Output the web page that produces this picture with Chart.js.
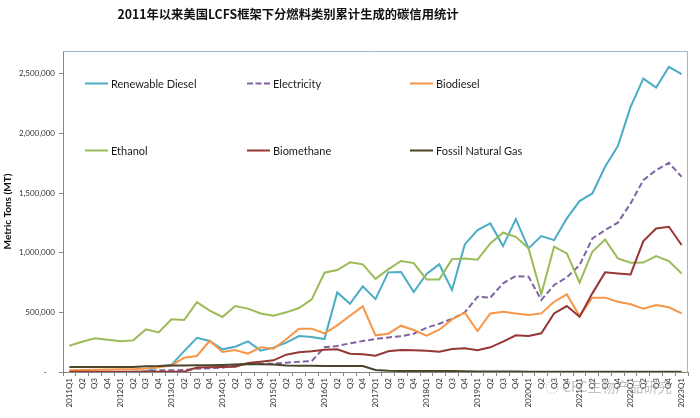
<!DOCTYPE html>
<html lang="zh-CN">

<head>
    <meta charset="UTF-8">
    <title>LCFS 碳信用统计</title>
    <script src="https://cdn.jsdelivr.net/npm/chart.js@4.4.0/dist/chart.umd.min.js"></script>

    <style>
        html, body { margin: 0; padding: 0; background: #fff; }
        #wrap { position: relative; width: 700px; height: 418px; }
        #title {
            position: absolute; top: 5px; left: 0; width: 576px; text-align: center;
            font-family: "Noto Sans CJK SC", sans-serif; font-weight: bold; font-size: 12.3px; color: #111;
        }
        .leg {
            position: absolute; display: flex; align-items: center; white-space: nowrap;
            font-family: Lato, "Open Sans", sans-serif; font-size: 11px; color: #1a1a1a;
            transform: translateY(-50%);
        }
        .leg i { display: inline-block; width: 23px; margin-right: 3px; border-top: 2px solid; }
        #mark {
            position: absolute; left: 545px; top: 376px;
            font-family: "Noto Sans CJK SC", sans-serif; font-size: 14px; color: rgba(140, 140, 140, 0.55);
        }
    </style>
</head>

<body>
    <div id="wrap">
        <canvas id="lcfs" width="700" height="418"></canvas>
        <div id="title">2011年以来美国LCFS框架下分燃料类别累计生成的碳信用统计</div>
        <div id="legend"></div>
        <div id="mark">◌ CFC生物产品研究</div>
    </div>

    <script>
        // Trimestres
        const quarters = [
            '2011Q1', 'Q2', 'Q3', 'Q4', '2012Q1', 'Q2', 'Q3', 'Q4',
            '2013Q1', 'Q2', 'Q3', 'Q4', '2014Q1', 'Q2', 'Q3', 'Q4',
            '2015Q1', 'Q2', 'Q3', 'Q4', '2016Q1', 'Q2', 'Q3', 'Q4',
            '2017Q1', 'Q2', 'Q3', 'Q4', '2018Q1', 'Q2', 'Q3', 'Q4',
            '2019Q1', 'Q2', 'Q3', 'Q4', '2020Q1', 'Q2', 'Q3', 'Q4',
            '2021Q1', 'Q2', 'Q3', 'Q4', '2022Q1', 'Q2', 'Q3', 'Q4',
            '2023Q1'
        ];

        // Crédits par type de carburant (MT)
        const renewableDiesel = [
            0, 0, 0, 0, 0, 0, 5000, 45000,
            60000, 175000, 287000, 260000, 190000, 212000, 257000, 179000,
            204000, 246000, 301000, 293000, 276000, 667000, 572000, 718000,
            611000, 835000, 838000, 670000, 821000, 902000, 687000, 1069000,
            1189000, 1245000, 1055000, 1281000, 1036000, 1139000, 1105000, 1287000,
            1432000, 1496000, 1720000, 1893000, 2222000, 2459000, 2384000, 2557000,
            2496000
        ];
        const electricity = [
            0, 0, 0, 0, 0, 0, 5000, 14000,
            15000, 16000, 28000, 32000, 36000, 60000, 65000, 68000,
            70000, 78000, 86000, 92000, 207000, 218000, 240000, 260000,
            276000, 290000, 299000, 321000, 371000, 404000, 446000, 500000,
            631000, 623000, 743000, 804000, 798000, 603000, 729000, 793000,
            896000, 1119000, 1189000, 1251000, 1413000, 1608000, 1692000, 1753000,
            1636000
        ];
        const biodiesel = [
            15000, 17000, 19000, 21000, 22000, 24000, 30000, 40000,
            55000, 120000, 134000, 262000, 168000, 184000, 153000, 207000,
            195000, 274000, 363000, 363000, 324000, 391000, 472000, 550000,
            307000, 321000, 388000, 352000, 304000, 354000, 441000, 497000,
            343000, 491000, 505000, 491000, 477000, 491000, 589000, 650000,
            469000, 623000, 623000, 589000, 567000, 530000, 561000, 542000,
            491000
        ];
        const ethanol = [
            220000, 254000, 282000, 271000, 257000, 265000, 357000, 332000,
            441000, 435000, 586000, 514000, 461000, 553000, 531000, 491000,
            472000, 500000, 536000, 609000, 832000, 854000, 919000, 902000,
            781000, 860000, 930000, 913000, 776000, 776000, 946000, 952000,
            941000, 1078000, 1167000, 1133000, 1036000, 653000, 1050000, 994000,
            748000, 1008000, 1111000, 952000, 916000, 917000, 972000, 930000,
            826000
        ];
        const biomethane = [
            3000, 3000, 3000, 3000, 3000, 3000, 3000, 3000,
            3000, 3000, 38000, 40000, 42000, 45000, 76000, 86000,
            98000, 145000, 165000, 173000, 187000, 190000, 153000, 148000,
            137000, 173000, 184000, 182000, 179000, 170000, 193000, 198000,
            182000, 207000, 254000, 307000, 301000, 324000, 491000, 553000,
            463000, 659000, 835000, 826000, 818000, 1097000, 1203000, 1217000,
            1064000
        ];
        const fossilGas = [
            42000, 42000, 42000, 42000, 42000, 42000, 48000, 50000,
            55000, 55000, 56000, 56000, 58000, 62000, 66000, 65000,
            63000, 55000, 52000, 52000, 51000, 50000, 50000, 50000,
            17000, 10000, 9000, 9000, 9000, 8000, 8000, 7000,
            5000, 5000, 4000, 4000, 3000, 2000, 2000, 2000,
            2000, 2000, 2000, 2000, 2000, 2000, 2000, 2000,
            2000
        ];

        const yTicks = [0, 500000, 1000000, 1500000, 2000000, 2500000];

        // Séries : nom, données, couleur, tirets
        const series = [
            { label: 'Renewable Diesel', data: renewableDiesel, color: '#4BACC6', dash: [] },
            { label: 'Electricity', data: electricity, color: '#8064A2', dash: [6, 3] },
            { label: 'Biodiesel', data: biodiesel, color: '#F79646', dash: [] },
            { label: 'Ethanol', data: ethanol, color: '#9BBB59', dash: [] },
            { label: 'Biomethane', data: biomethane, color: '#953735', dash: [] },
            { label: 'Fossil Natural Gas', data: fossilGas, color: '#4A452A', dash: [] }
        ];

        // Légende HTML (3 colonnes x 2 lignes, dans la zone du graphe)
        const legX = [85, 247, 410];
        const legY = [83, 150];
        const legend = document.getElementById('legend');
        series.forEach((s, i) => {
            const el = document.createElement('div');
            el.className = 'leg';
            el.style.left = legX[i % 3] + 'px';
            el.style.top = legY[Math.floor(i / 3)] + 'px';
            const style = s.dash.length ? 'dashed' : 'solid';
            el.innerHTML = '<i style="border-top:2px ' + style + ' ' + s.color + '"></i>' + s.label;
            legend.appendChild(el);
        });

        // Cadre haut / droite du graphe
        const frame = {
            id: 'frame',
            beforeDatasetsDraw(chart) {
                const a = chart.chartArea;
                const c = chart.ctx;
                c.save();
                c.strokeStyle = '#9DB7D5';
                c.lineWidth = 1;
                c.beginPath();
                c.moveTo(a.left, a.top + 0.5);
                c.lineTo(a.right - 0.5, a.top + 0.5);
                c.lineTo(a.right - 0.5, a.bottom);
                c.stroke();
                c.restore();
            }
        };

        const tickFont = { family: 'Lato, "Open Sans", sans-serif', size: 8 };

        const ctx = document.getElementById('lcfs');
        const graph = new Chart(ctx, {
            type: 'line',
            data: {
                labels: quarters,
                datasets: series.map((s, i) => ({
                    label: s.label,
                    data: s.data,
                    borderColor: s.color,
                    backgroundColor: s.color,
                    borderDash: s.dash,
                    borderWidth: 2,
                    pointRadius: 0,
                    tension: 0,
                    order: 5 - i
                }))
            },
            options: {
                responsive: false,
                animation: false,
                layout: { padding: { top: 51, right: 12, left: 2, bottom: 0 } },
                plugins: {
                    legend: { display: false },
                    title: { display: false },
                    tooltip: { enabled: false }
                },
                scales: {
                    x: {
                        offset: true,
                        afterFit: (scale) => { scale.height = 46; },
                        grid: { offset: true, drawOnChartArea: false, tickLength: 4, color: '#868686' },
                        border: { color: '#868686' },
                        ticks: {
                            autoSkip: false, minRotation: 90, maxRotation: 90,
                            padding: 2, color: '#333', font: tickFont
                        }
                    },
                    y: {
                        min: 0,
                        max: 2690000,
                        afterFit: (scale) => { scale.width = 61; },
                        afterBuildTicks: (scale) => { scale.ticks = yTicks.map(v => ({ value: v })); },
                        grid: { drawOnChartArea: false, tickLength: 4, color: '#868686' },
                        border: { color: '#868686' },
                        title: {
                            display: true, text: 'Metric Tons (MT)', color: '#111', padding: 0,
                            font: { family: 'Lato, "Open Sans", sans-serif', size: 10, weight: 'bold' }
                        },
                        ticks: {
                            padding: 4, color: '#333', font: tickFont,
                            callback: (v) => v === 0 ? '-    ' : v.toLocaleString('en-US')
                        }
                    }
                }
            },
            plugins: [frame]
        });
    </script>
</body>

</html>
